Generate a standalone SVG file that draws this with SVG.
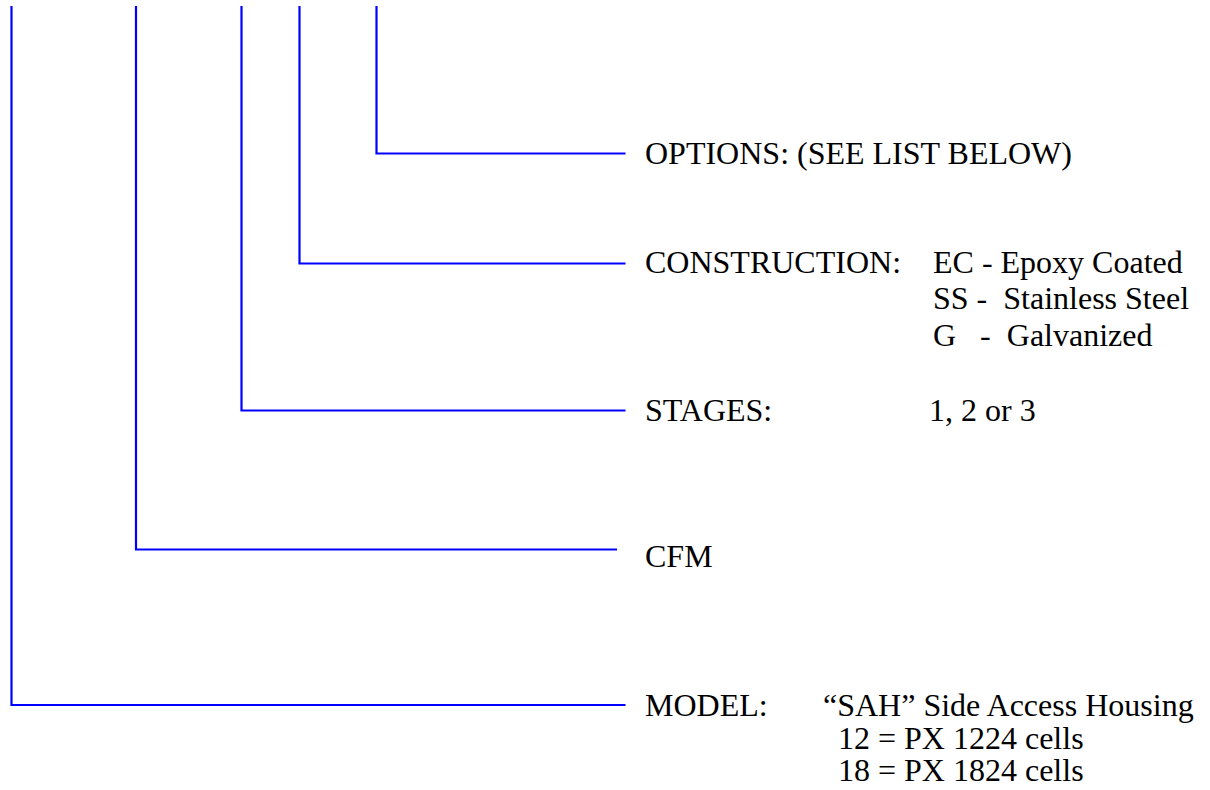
<svg xmlns="http://www.w3.org/2000/svg" width="1210" height="790" viewBox="0 0 1210 790">
<style>
.c{fill:none;stroke:#0000FF;stroke-width:2.2}
.t{font-family:"Liberation Serif","Times New Roman",serif;font-size:32px;fill:#000;white-space:pre}
</style>
<rect width="1210" height="790" fill="#fff"/>
<g id="connectors">
<polyline class="c" points="11.5,6 11.5,705 625.5,705"/>
<polyline class="c" points="136,6 136,549.5 617,549.5"/>
<polyline class="c" points="241.5,6 241.5,410.5 625.5,410.5"/>
<polyline class="c" points="299.5,6 299.5,263.5 625.5,263.5"/>
<polyline class="c" points="376.5,6 376.5,153.5 625.5,153.5"/>
</g>
<g id="options">
<text class="t" x="645" y="164">OPTIONS: (SEE LIST BELOW)</text>
</g>
<g id="construction">
<text class="t" x="645" y="273">CONSTRUCTION:</text>
<text class="t" x="933" y="273">EC - Epoxy Coated</text>
<text class="t" x="933" y="309" xml:space="preserve">SS -  Stainless Steel</text>
<text class="t" x="933" y="346" xml:space="preserve">G   -  Galvanized</text>
</g>
<g id="stages">
<text class="t" x="645" y="421">STAGES:</text>
<text class="t" x="929" y="421">1, 2 or 3</text>
</g>
<g id="cfm">
<text class="t" x="645" y="567">CFM</text>
</g>
<g id="model">
<text class="t" x="645" y="716">MODEL:</text>
<text class="t" x="823" y="716">“SAH” Side Access Housing</text>
<text class="t" x="838" y="749">12 = PX 1224 cells</text>
<text class="t" x="838" y="781">18 = PX 1824 cells</text>
</g>
</svg>
